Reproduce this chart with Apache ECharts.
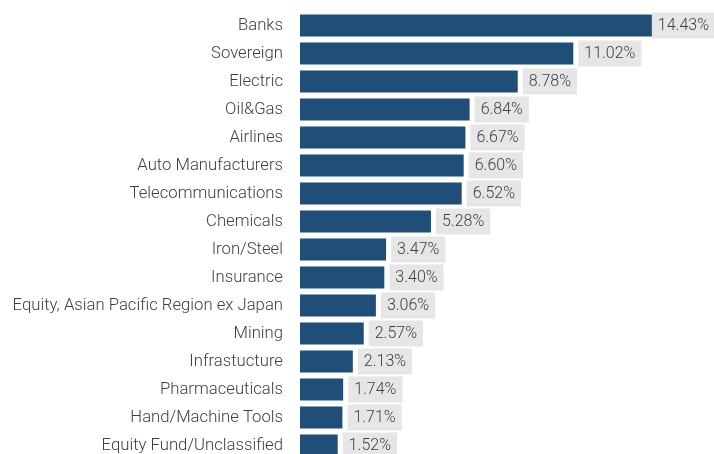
<!DOCTYPE html>
<html>
<head>
<meta charset="utf-8">
<script src="https://cdn.jsdelivr.net/npm/echarts@6/dist/echarts.min.js"></script>
<style>html,body{margin:0;padding:0;background:#fff;overflow:hidden}#chart{width:714px;height:480px}</style>
</head>
<body>
<div id="chart"></div>
<script>
const categories = ["Banks","Sovereign","Electric","Oil&Gas","Airlines","Auto Manufacturers","Telecommunications","Chemicals","Iron/Steel","Insurance","Equity, Asian Pacific Region ex Japan","Mining","Infrastucture","Pharmaceuticals","Hand/Machine Tools","Equity Fund/Unclassified"];
const values = [14.43,11.02,8.78,6.84,6.67,6.60,6.52,5.28,3.47,3.40,3.06,2.57,2.13,1.74,1.71,1.52];

const chart = echarts.init(document.getElementById('chart'));
const data = values.map((v, i) => {
  const item = { value: v };
  if (i === 0) item.label = { offset: [-11, 0] };
  return item;
});
chart.setOption({
  animation: false,
  grid: { left: 300, width: 396.8, top: 11.5, height: 448, containLabel: false },
  xAxis: { type: 'value', min: 0, max: 16, show: false, splitLine: { show: false } },
  yAxis: {
    type: 'category', data: categories, inverse: true,
    axisLine: { show: false }, axisTick: { show: false },
    axisLabel: { margin: 17, fontFamily: 'Roboto', fontWeight: 300, fontSize: 16.7, color: '#404040' }
  },
  series: [{
    type: 'bar', data: data, barWidth: 22,
    itemStyle: { color: '#1f4e79' },
    label: {
      show: true, position: 'right', distance: 5,
      formatter: p => p.value.toFixed(2) + '%',
      fontFamily: 'Roboto', fontWeight: 300, fontSize: 16, color: '#404040',
      backgroundColor: '#e6e6e6', padding: [5, 6, 5, 6], lineHeight: 16
    }
  }]
});
</script>
</body>
</html>
